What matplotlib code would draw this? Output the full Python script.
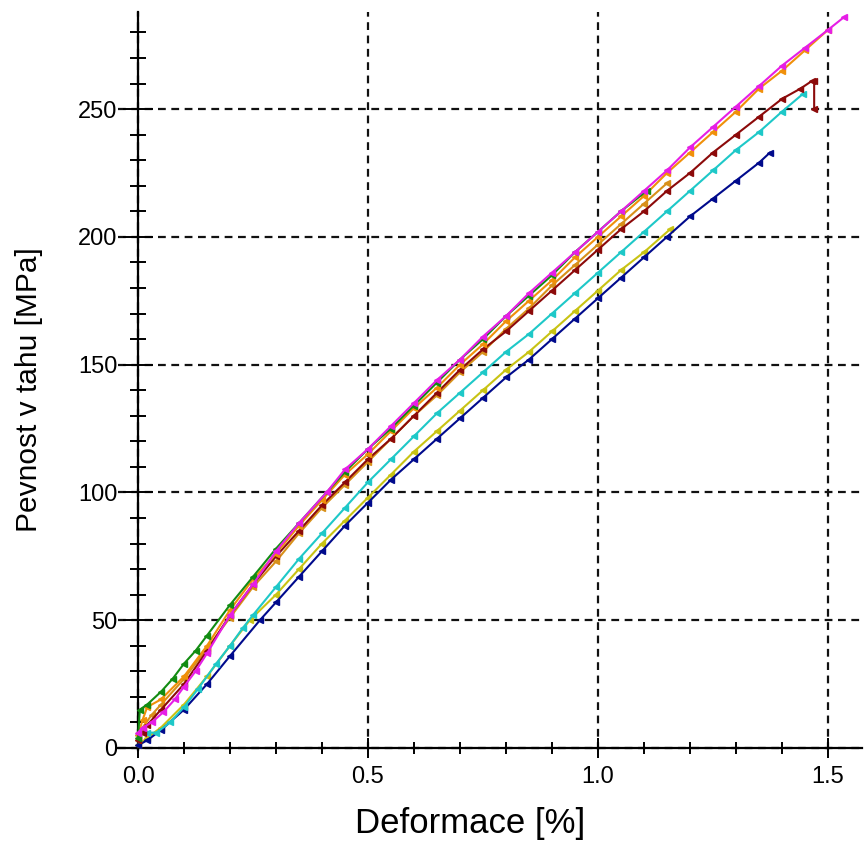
import matplotlib
matplotlib.use("Agg")
import matplotlib.pyplot as plt
from matplotlib.ticker import MultipleLocator

plt.rcParams['font.family'] = ['Liberation Sans', 'DejaVu Sans']

# strain [%] / stress [MPa] for each specimen
x_green = [0, 0.004, 0.02, 0.05, 0.075, 0.1, 0.125, 0.15, 0.2, 0.25, 0.3, 0.35, 0.41, 0.45, 0.5,
           0.55, 0.6, 0.65, 0.7, 0.75, 0.8, 0.85, 0.9, 0.95, 1.0, 1.05, 1.106]
y_green = [4, 15, 17, 22, 27, 33, 38, 44, 56, 67, 78, 88, 100, 108, 117,
           125, 134, 143, 152, 160, 169, 177, 185, 194, 202, 210, 218]

x_magenta = [0, 0.01, 0.03, 0.055, 0.08, 0.1, 0.125, 0.15, 0.2, 0.25, 0.3, 0.35, 0.41, 0.45, 0.5,
             0.55, 0.6, 0.65, 0.7, 0.75, 0.8, 0.85, 0.9, 0.95, 1.0, 1.05, 1.1, 1.15, 1.2, 1.25,
             1.3, 1.35, 1.4, 1.45, 1.5, 1.535]
y_magenta = [6, 8, 10, 14, 19, 24, 30, 37, 52, 64, 77, 88, 100, 109, 117,
             126, 135, 144, 152, 161, 169, 178, 186, 194, 202, 210, 218, 226, 235, 243,
             251, 259, 267, 274, 281, 286]

x_orange = [0, 0.01, 0.02, 0.05, 0.1, 0.15, 0.2, 0.25, 0.3, 0.35, 0.4, 0.45, 0.5, 0.55, 0.6,
            0.65, 0.7, 0.75, 0.8, 0.85, 0.9, 0.95, 1.0, 1.05, 1.1, 1.15, 1.2, 1.25, 1.3, 1.35,
            1.4, 1.45, 1.5]
y_orange = [5, 11, 16, 19, 28, 40, 54, 66, 76, 87, 97, 107, 115, 124, 133,
            141, 150, 158, 167, 175, 183, 192, 200, 208, 216, 225, 233, 241, 249, 258,
            265, 273, 281]

x_gold = [0, 0.01, 0.03, 0.05, 0.1, 0.15, 0.2, 0.25, 0.3, 0.35, 0.4, 0.45, 0.5, 0.55, 0.6,
          0.65, 0.7, 0.75, 0.8, 0.85, 0.9, 0.95, 1.0, 1.05, 1.1, 1.15]
y_gold = [3, 8, 13, 17, 27, 39, 51, 63, 73, 84, 94, 103, 112, 121, 130,
          138, 147, 155, 164, 172, 181, 189, 197, 205, 213, 221]

x_maroon = [0, 0.01, 0.02, 0.05, 0.1, 0.15, 0.2, 0.25, 0.3, 0.35, 0.4, 0.45, 0.5, 0.55, 0.6,
            0.65, 0.7, 0.75, 0.8, 0.85, 0.9, 0.95, 1.0, 1.05, 1.1, 1.15, 1.2, 1.25, 1.3, 1.35,
            1.4, 1.44, 1.465, 1.47, 1.47]
y_maroon = [3, 6, 9, 15, 25, 38, 52, 64, 75, 85, 95, 104, 113, 121, 130,
            139, 148, 156, 163, 171, 179, 187, 195, 203, 210, 218, 225, 233, 240, 247,
            254, 258, 261, 261, 250]

x_cyan = [0, 0.02, 0.04, 0.07, 0.1, 0.13, 0.17, 0.2, 0.228, 0.25, 0.3, 0.35, 0.4, 0.45, 0.5,
          0.55, 0.6, 0.65, 0.7, 0.75, 0.8, 0.85, 0.9, 0.95, 1.0, 1.05, 1.1, 1.15, 1.2, 1.25,
          1.3, 1.35, 1.4, 1.446]
y_cyan = [5, 6, 6, 10, 16, 23, 33, 40, 47, 52, 63, 74, 84, 94, 104,
          113, 122, 131, 139, 147, 155, 162, 170, 178, 186, 194, 202, 210, 218, 226,
          234, 241, 249, 256]

x_navy = [0, 0.02, 0.05, 0.1, 0.15, 0.2, 0.265, 0.3, 0.35, 0.4, 0.45, 0.5, 0.55, 0.6, 0.65,
          0.7, 0.75, 0.8, 0.85, 0.9, 0.95, 1.0, 1.05, 1.1, 1.15, 1.2, 1.25, 1.3, 1.35, 1.374]
y_navy = [1, 3, 7, 15, 25, 36, 50, 57, 67, 77, 87, 96, 105, 113, 121,
          129, 137, 145, 152, 160, 168, 176, 184, 192, 200, 208, 215, 222, 229, 233]

x_yellow = [0, 0.02, 0.05, 0.1, 0.15, 0.2, 0.243, 0.3, 0.35, 0.4, 0.45, 0.5, 0.55, 0.6, 0.65,
            0.7, 0.75, 0.8, 0.85, 0.9, 0.95, 1.0, 1.05, 1.1, 1.157]
y_yellow = [1, 4, 8, 17, 28, 40, 50, 60, 70, 80, 89, 98, 107, 116, 124,
            132, 140, 148, 155, 163, 171, 179, 187, 194, 203]

series = [
    (x_yellow, y_yellow, '#c8c314'),
    (x_navy, y_navy, '#000a8c'),
    (x_cyan, y_cyan, '#1ec8c8'),
    (x_gold, y_gold, '#d8901a'),
    (x_maroon, y_maroon, '#8c0a0a'),
    (x_orange, y_orange, '#f0900a'),
    (x_green, y_green, '#128c12'),
    (x_magenta, y_magenta, '#e61ee6'),
]

fig = plt.figure(figsize=(8.64, 8.43), dpi=100)
ax = fig.add_axes([118 / 864, 93 / 843, 744 / 864, 738 / 843])
ax.set_xlim(-0.0435, 1.574)
ax.set_ylim(-0.8, 288)

for xs, ys, col in series:
    ax.plot(xs, ys, color=col, lw=1.5, marker='<', ms=4.5, zorder=3)

# axes through the origin, no frame on top/right
for side in ['top', 'right']:
    ax.spines[side].set_visible(False)
ax.spines['left'].set_position(('data', 0))
ax.spines['bottom'].set_position(('data', 0))
ax.spines['left'].set_linewidth(1.6)
ax.spines['bottom'].set_linewidth(1.6)

ax.set_xticks([0, 0.5, 1.0, 1.5])
ax.set_xticklabels(['0.0', '0.5', '1.0', '1.5'])
ax.xaxis.set_minor_locator(MultipleLocator(0.1))
ax.set_yticks([0, 50, 100, 150, 200, 250])
ax.yaxis.set_minor_locator(MultipleLocator(10))

ax.tick_params(axis='x', which='major', direction='inout', length=13.7, width=1.4, pad=6, labelsize=17)
ax.tick_params(axis='x', which='minor', direction='inout', length=8.6, width=1.4)
ax.tick_params(axis='y', which='major', direction='inout', length=22, width=1.4, pad=4, labelsize=17)
ax.tick_params(axis='y', which='minor', direction='inout', length=12, width=1.4)

ax.grid(which='major', ls=(0, (3.5, 2.5)), color='#111111', lw=1.6)
ax.set_axisbelow(True)

fig.text(470 / 864, 1 - 823 / 843, 'Deformace [%]', fontsize=25, ha='center', va='center')
fig.text(29 / 864, 1 - 390 / 843, 'Pevnost v tahu [MPa]', fontsize=21.5, rotation=90,
         ha='center', va='center')

fig.savefig('out.png', dpi=100)
